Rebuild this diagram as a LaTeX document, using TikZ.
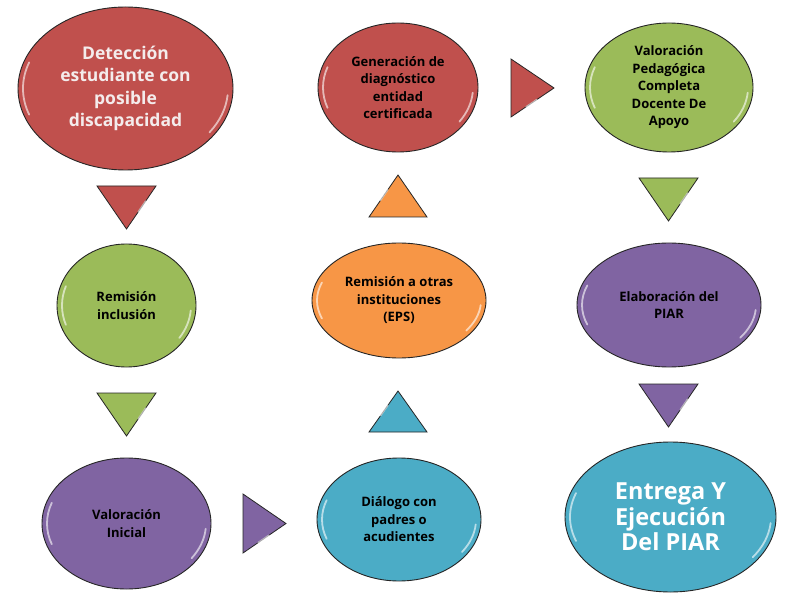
\documentclass[tikz,border=0pt]{standalone}
\usepackage{fontspec}
\setmainfont{Open Sans}
\usetikzlibrary{shapes.geometric,calc}
\definecolor{cRed}{HTML}{C0504D}
\definecolor{cGreen}{HTML}{9BBB59}
\definecolor{cPurple}{HTML}{8064A2}
\definecolor{cBlue}{HTML}{4BACC6}
\definecolor{cOrange}{HTML}{F79646}
\definecolor{cLight}{HTML}{F4ECEC}
\tikzset{
  x=1pt,y=1pt,
  bubble/.style={ellipse, draw=black!85, line width=0.9pt, inner sep=0pt, align=center,
     font=\bfseries\fontsize{13}{17.5}\selectfont, text=black},
  bigtext/.style={font=\bfseries\fontsize{17.5}{22.5}\selectfont, text=cLight},
  hugetext/.style={font=\bfseries\fontsize{23.5}{25.5}\selectfont, text=white},
  tri/.style={draw=black!85, line width=0.8pt, line join=miter},
  glint/.style={white, opacity=.6, line width=1.8pt, line cap=round},
}
\newcommand{\gloss}[3]{%
  \draw[glint] (#1.center) ++(160:{#2-5} and {#3-5}) arc[start angle=160,end angle=200,x radius=#2-5,y radius=#3-5];
  \draw[glint] (#1.center) ++(-35:{#2-5} and {#3-5}) arc[start angle=-35,end angle=-5,x radius=#2-5,y radius=#3-5];
}
\begin{document}
\begin{tikzpicture}
\useasboundingbox (0,0) rectangle (799,608);
\fill[white] (0,0) rectangle (799,608);
% ellipses (y = 608 - image y)
\node[bubble, bigtext, fill=cRed, minimum width=215, minimum height=163] (e1) at (125.5,519.5)
  {Detección\\estudiante con\\posible\\discapacidad};
\node[bubble, fill=cGreen, minimum width=139, minimum height=123] (e2) at (126.5,302.5)
  {Remisión\\inclusión};
\node[bubble, fill=cPurple, minimum width=169, minimum height=131] (e3) at (126.5,84.5)
  {Valoración\\Inicial};
\node[bubble, fill=cBlue, minimum width=164, minimum height=123] (e4) at (399,88.5)
  {Diálogo con\\padres o\\acudientes};
\node[bubble, fill=cOrange, minimum width=174, minimum height=115] (e5) at (399,307.5)
  {Remisión a otras\\instituciones\\(EPS)};
\node[bubble, fill=cRed, minimum width=160, minimum height=129] (e6) at (398,520.5)
  {Generación de\\diagnóstico\\entidad\\certificada};
\node[bubble, fill=cGreen, minimum width=168, minimum height=129] (e7) at (669,520.5)
  {Valoración\\Pedagógica\\Completa\\Docente De\\Apoyo};
\node[bubble, fill=cPurple, minimum width=184, minimum height=124] (e8) at (669,303)
  {Elaboración del\\PIAR};
\node[bubble, hugetext, fill=cBlue, minimum width=211, minimum height=150] (e9) at (670.5,91)
  {Entrega Y\\Ejecución\\Del PIAR};
\gloss{e1}{107.5}{81.5}
\gloss{e2}{69.5}{61.5}
\gloss{e3}{84.5}{65.5}
\gloss{e4}{82}{61.5}
\gloss{e5}{87}{57.5}
\gloss{e6}{80}{64.5}
\gloss{e7}{84}{64.5}
\gloss{e8}{92}{62}
\gloss{e9}{105.5}{75}
% triangles (arrows)
\coordinate (t1a) at (97,422); \coordinate (t1b) at (156,422); \coordinate (t1c) at (126.5,379);
\filldraw[tri, fill=cRed] (t1a) -- (t1b) -- (t1c) -- cycle;
\coordinate (t2a) at (97,215); \coordinate (t2b) at (156,215); \coordinate (t2c) at (126.5,172);
\filldraw[tri, fill=cGreen] (t2a) -- (t2b) -- (t2c) -- cycle;
\coordinate (t3a) at (243,114); \coordinate (t3b) at (243,55); \coordinate (t3c) at (286,84.5);
\filldraw[tri, fill=cPurple] (t3a) -- (t3b) -- (t3c) -- cycle;
\coordinate (t4a) at (369,176); \coordinate (t4b) at (427,176); \coordinate (t4c) at (398,217);
\filldraw[tri, fill=cBlue] (t4a) -- (t4b) -- (t4c) -- cycle;
\coordinate (t5a) at (369,391); \coordinate (t5b) at (427,391); \coordinate (t5c) at (398,433);
\filldraw[tri, fill=cOrange] (t5a) -- (t5b) -- (t5c) -- cycle;
\coordinate (t6a) at (511,549); \coordinate (t6b) at (511,491); \coordinate (t6c) at (554,520);
\filldraw[tri, fill=cRed] (t6a) -- (t6b) -- (t6c) -- cycle;
\coordinate (t7a) at (639,430); \coordinate (t7b) at (698,430); \coordinate (t7c) at (668.5,387);
\filldraw[tri, fill=cGreen] (t7a) -- (t7b) -- (t7c) -- cycle;
\coordinate (t8a) at (639,224); \coordinate (t8b) at (698,224); \coordinate (t8c) at (668.5,181);
\filldraw[tri, fill=cPurple] (t8a) -- (t8b) -- (t8c) -- cycle;
% triangle glints
\foreach \p/\q in {t1b/t1c, t2b/t2c, t7b/t7c, t8b/t8c, t4c/t4a, t5c/t5a, t3b/t3c, t6b/t6c}{
  \draw[glint, line width=1.5pt] ($(\p)!0.35!(\q)$) -- ($(\p)!0.6!(\q)$);
}
\end{tikzpicture}
\end{document}
